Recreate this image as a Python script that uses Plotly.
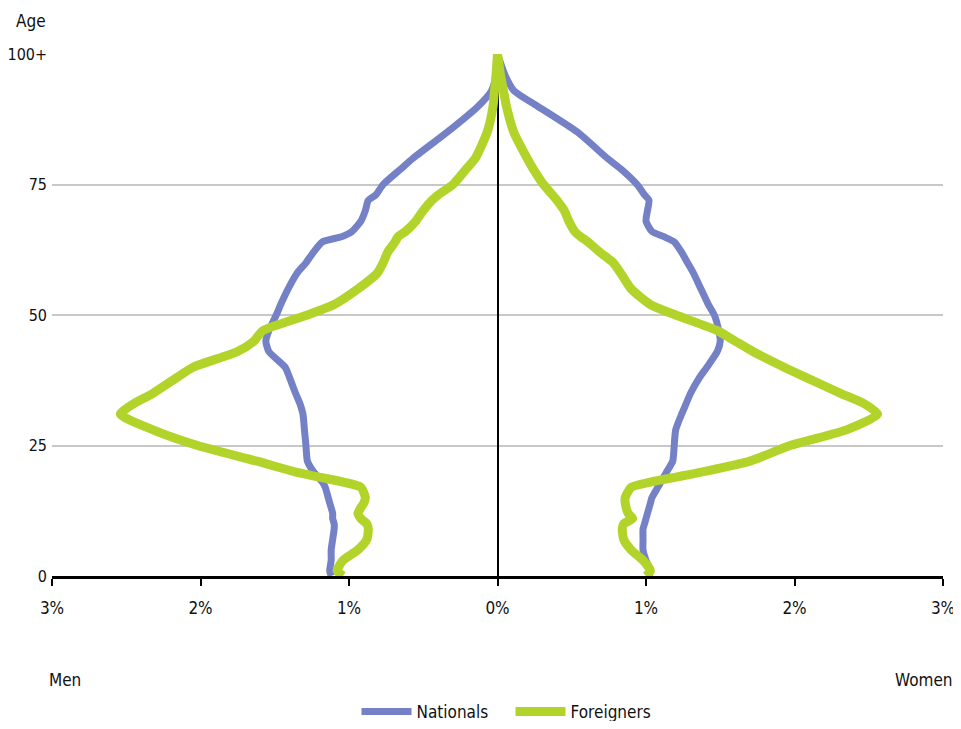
import plotly.graph_objects as go

ages = [0, 1, 3, 5, 7, 9, 10, 11, 12, 14, 15, 17, 18, 19, 20, 22, 25, 28, 31, 33,
        35, 38, 40, 43, 45, 47, 50, 52, 55, 58, 60, 62, 64, 65, 66, 68, 70, 72,
        73, 75, 78, 80, 85, 90, 93, 96, 100]

men_nationals = [1.12, 1.13, 1.12, 1.12, 1.11, 1.10, 1.10, 1.11, 1.11, 1.13, 1.14, 1.16,
                 1.18, 1.21, 1.24, 1.28, 1.29, 1.30, 1.31, 1.33, 1.36, 1.40, 1.43, 1.54,
                 1.56, 1.54, 1.49, 1.46, 1.41, 1.35, 1.29, 1.24, 1.18, 1.05, 0.98, 0.92,
                 0.89, 0.87, 0.82, 0.77, 0.65, 0.57, 0.34, 0.13, 0.04, 0.01, 0.0]
men_foreigners = [1.04, 1.08, 1.04, 0.94, 0.88, 0.87, 0.88, 0.92, 0.94, 0.90, 0.89, 0.92,
                  1.04, 1.21, 1.37, 1.62, 2.02, 2.32, 2.54, 2.45, 2.32, 2.16, 2.05, 1.75,
                  1.64, 1.58, 1.28, 1.10, 0.94, 0.81, 0.77, 0.74, 0.69, 0.67, 0.62, 0.55,
                  0.50, 0.44, 0.40, 0.30, 0.21, 0.15, 0.07, 0.03, 0.02, 0.01, 0.0]
women_nationals = [1.02, 1.03, 1.00, 0.98, 0.98, 0.98, 0.99, 1.00, 1.01, 1.03, 1.04, 1.08,
                   1.10, 1.12, 1.14, 1.18, 1.19, 1.20, 1.24, 1.27, 1.30, 1.36, 1.41, 1.48,
                   1.50, 1.49, 1.46, 1.42, 1.37, 1.32, 1.28, 1.24, 1.19, 1.12, 1.04, 1.00,
                   1.01, 1.02, 0.99, 0.94, 0.83, 0.74, 0.54, 0.27, 0.11, 0.05, 0.0]
women_foreigners = [1.00, 1.03, 0.98, 0.90, 0.85, 0.84, 0.85, 0.91, 0.88, 0.86, 0.86, 0.90,
                    1.03, 1.21, 1.39, 1.70, 1.97, 2.35, 2.56, 2.47, 2.31, 2.08, 1.93, 1.72,
                    1.60, 1.48, 1.20, 1.03, 0.90, 0.83, 0.78, 0.69, 0.61, 0.56, 0.52, 0.48,
                    0.45, 0.40, 0.37, 0.31, 0.24, 0.20, 0.11, 0.06, 0.04, 0.02, 0.0]

x_ticks = [-3, -2, -1, 0, 1, 2, 3]
x_ticktext = ["3%", "2%", "1%", "0%", "1%", "2%", "3%"]
y_ticks = [0, 25, 50, 75, 100]
y_ticktext = ["0", "25", "50", "75", "100+"]

BLUE = "#7581c6"
GREEN = "#b2d42a"
FONT = "DejaVu Sans Condensed, Liberation Sans Narrow, Liberation Sans, Arial"
TXT = "#111"

fig = go.Figure()

series = [
    ("Nationals", men_nationals, women_nationals, BLUE, 7),
    ("Foreigners", men_foreigners, women_foreigners, GREEN, 9),
]
for name, men, women, color, width in series:
    fig.add_trace(go.Scatter(
        x=[-v for v in men], y=ages, mode="lines", name=name, legendgroup=name,
        line=dict(color=color, width=width, shape="spline", smoothing=0.6),
    ))
    fig.add_trace(go.Scatter(
        x=women, y=ages, mode="lines", name=name, legendgroup=name, showlegend=False,
        line=dict(color=color, width=width, shape="spline", smoothing=0.6),
    ))

fig.update_xaxes(
    range=[-3, 3], tickvals=x_ticks, ticktext=x_ticktext, automargin=False,
    showgrid=False, zeroline=True, zerolinecolor="black", zerolinewidth=1.5,
    showline=True, linecolor="black", linewidth=2.5,
    ticks="outside", ticklen=7, tickwidth=1.5, tickcolor="black",
    ticklabelstandoff=8, tickfont=dict(size=17, color=TXT),
)
fig.update_yaxes(
    range=[0, 100], tickvals=y_ticks, ticktext=y_ticktext, automargin=False,
    showgrid=True, gridcolor="#c8c8c8", gridwidth=2, zeroline=False,
    showline=False, ticklabelstandoff=4, tickfont=dict(size=16, color=TXT),
)

fig.add_annotation(text="Age", x=-0.043, y=1.064, xref="paper", yref="paper",
                   xanchor="left", yanchor="middle", showarrow=False,
                   font=dict(size=17, color=TXT))
fig.add_annotation(text="Men", x=-0.006, y=-0.199, xref="paper", yref="paper",
                   xanchor="left", yanchor="middle", showarrow=False,
                   font=dict(size=17, color=TXT))
fig.add_annotation(text="Women", x=1.0135, y=-0.199, xref="paper", yref="paper",
                   xanchor="right", yanchor="middle", showarrow=False,
                   font=dict(size=17, color=TXT))

fig.update_layout(
    width=953, height=713,
    margin=dict(l=44, r=18, t=46, b=145),
    paper_bgcolor="white", plot_bgcolor="white",
    font=dict(family=FONT, size=17, color=TXT),
    showlegend=True,
    legend=dict(orientation="h", x=0.5146, xanchor="center", xref="paper",
                y=0.0126, yanchor="middle", yref="container",
                itemwidth=50, entrywidth=89, font=dict(size=17)),
)

fig.write_html("out.html")
